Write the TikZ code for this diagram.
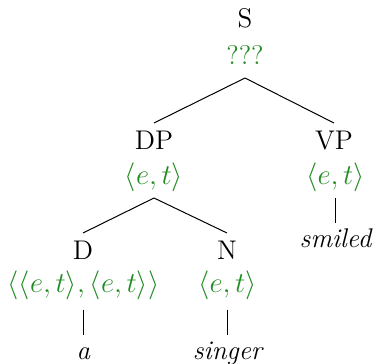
\documentclass[tikz,border=0pt]{standalone}
\usepackage{xcolor}
\definecolor{typegreen}{RGB}{34,139,34}
\begin{document}
\begin{tikzpicture}[x=0.5pt,y=-0.5pt,
  font=\fontsize{13.5}{16}\selectfont,
  cat/.style={inner sep=0pt, outer sep=0pt, anchor=base, text height=13.5pt, text depth=0pt},
  typ/.style={inner sep=0pt, outer sep=0pt, anchor=base, text=typegreen, text depth=6.5pt},
  typlow/.style={typ, text depth=8.5pt},
  leaf/.style={inner sep=0pt, outer sep=0pt, anchor=base, text height=12.5pt, font=\fontsize{13.5}{16}\selectfont\itshape},
  edge/.style={draw=black, line width=0.5pt}]
\useasboundingbox (0,0) rectangle (377,364);
% root
\node[cat] (S) at (245,28) {S};
\node[typ] (tS) at (245,65) {???};
% DP / VP
\node[cat] (DP) at (154,150) {DP};
\node[typ] (tDP) at (154,185) {$\langle e,t\rangle$};
\node[cat] (VP) at (334,150) {VP};
\node[typ] (tVP) at (335.5,185) {$\langle e,t\rangle$};
\node[leaf] (smiled) at (335.5,248) {smiled};
% D / N
\node[cat] (D) at (83,260) {D};
\node[typlow] (tD) at (83.5,293) {$\langle\langle e,t\rangle,\langle e,t\rangle\rangle$};
\node[cat] (N) at (227,260) {N};
\node[typlow] (tN) at (227.5,293) {$\langle e,t\rangle$};
\node[leaf] (a) at (83.5,360) {a};
\node[leaf] (singer) at (227.5,360) {singer};
% edges
\draw[edge] (tS.south) -- (DP.north);
\draw[edge] (tS.south) -- (VP.north);
\draw[edge] (tDP.south) -- (D.north);
\draw[edge] (tDP.south) -- (N.north);
\draw[edge] (tVP.south) -- (smiled.north);
\draw[edge] (tD.south) -- (a.north);
\draw[edge] (tN.south) -- (singer.north);
\end{tikzpicture}
\end{document}
